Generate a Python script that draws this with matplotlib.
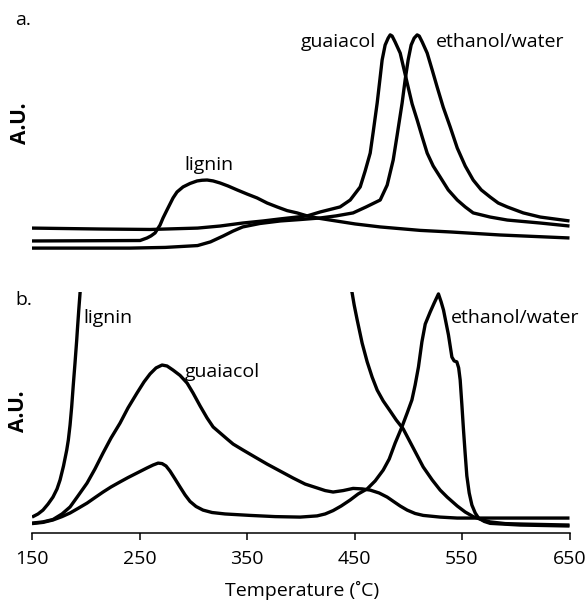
import matplotlib
matplotlib.use("Agg")
import matplotlib.pyplot as plt

plt.rcParams['font.family'] = ['Open Sans', 'DejaVu Sans']
plt.rcParams['font.size'] = 14

# ---- panel a. (A.U. on a 0-100 scale) ----
lignin_a_t = [150, 250.5, 257, 260.7, 264.5, 269.1, 271.9, 275.6, 278.4, 281.2, 284.9,
              290.5, 297, 303.6, 308.2, 312.9, 318.5, 325, 332.4, 340.8, 350.1, 359.4,
              368.7, 378, 387.3, 396.6, 405.9, 415.2, 427.3, 450.6, 473.9, 511.1, 540,
              585.6, 650]
lignin_a_v = [6.1, 6.3, 7.4, 8.3, 9.6, 13.0, 16.1, 19.6, 22.2, 24.8, 27.4, 29.6, 31.1,
              32.2, 32.5, 32.6, 32.2, 31.3, 30.0, 28.3, 26.5, 24.8, 22.6, 20.9, 19.3,
              18.3, 17.0, 16.1, 15.2, 13.5, 12.2, 10.7, 10.0, 8.7, 7.4]

guaiacol_a_t = [150, 213, 260, 304, 325, 346, 365, 381, 406, 418, 436.6, 446, 455.3,
                459.9, 464.6, 467.4, 471.1, 473.9, 475.7, 478.5, 481.3, 483.2, 485,
                487.8, 492.5, 496.2, 499.9, 503.6, 508.3, 513, 517.6, 523.2, 529.7,
                537.2, 545.6, 553, 560.4, 576.2, 592.1, 622.8, 650]
guaiacol_a_v = [11.7, 11.3, 11.1, 11.7, 12.6, 13.9, 14.8, 15.7, 17.0, 18.7, 20.9, 23.9,
                29.6, 36.5, 44.3, 53.5, 66.1, 77.4, 84.8, 91.3, 94.3, 95.7, 95.2, 92.6,
                87.8, 80.4, 73.0, 65.7, 58.7, 51.3, 44.3, 38.7, 33.9, 28.3, 23.9, 20.9,
                18.3, 16.5, 15.2, 13.9, 12.6]

ethanol_a_t = [150, 241, 274, 304, 316, 328, 337, 346, 362, 381, 399, 418, 432.9, 448.7,
               460.8, 473.9, 480.4, 486, 489.7, 494.3, 497.1, 499.9, 502.7, 505.5,
               508.3, 510.2, 513, 517.6, 522.3, 526.9, 532.5, 539, 545.6, 553, 560.4,
               567.9, 576.2, 583.7, 592.1, 607, 622.8, 650]
ethanol_a_v = [3.0, 3.0, 3.3, 4.1, 5.7, 8.3, 10.4, 12.2, 13.7, 14.8, 15.4, 16.1, 17.0,
               18.3, 20.9, 23.9, 30.4, 41.3, 52.2, 66.1, 76.1, 84.8, 91.3, 94.3, 95.7,
               95.2, 92.6, 87.8, 80.4, 73.0, 64.3, 55.7, 46.5, 38.7, 32.6, 28.3, 25.2,
               22.6, 20.9, 18.3, 16.5, 14.8]

# ---- panel b. ----
lignin_b_t = [150, 155.6, 160.2, 164.9, 169.5, 173.3, 176.1, 179.3, 182.3, 183.8,
              185.4, 186.9, 188.4, 190, 191.6, 192.2, 193.5, 194.7, 197, 440,
              447.8, 449.7, 452.5, 457.1, 461.8, 466.4, 471.1, 476.7, 483.2, 488.8,
              495.3, 504.6, 513.9, 522.3, 529.7, 536.2, 545.6, 553, 560.4, 567.9,
              576.2, 590.2, 607, 650]
lignin_b_v = [6.6, 7.9, 9.5, 12.0, 14.9, 18.3, 22.0, 27.8, 34.4, 38.6, 44.8, 52.3,
              61.4, 70.5, 80.1, 84.2, 92.5, 99.6, 115, 115, 99.6, 94.6, 88.4, 78.8,
              71.0, 64.7, 59.3, 54.8, 50.6, 46.9, 43.2, 35.3, 27.4, 22.0, 17.8, 14.9,
              11.2, 8.7, 6.8, 5.6, 4.6, 3.9, 3.7, 3.3]

guaiacol_b_t = [150, 160.2, 169.5, 177.9, 185.4, 192.8, 201.2, 208.6, 216.1, 223.5,
                231.9, 239.3, 247.7, 254.2, 259.8, 265.4, 271, 275.6, 281.2, 287.7,
                294.3, 299.8, 306.4, 312.9, 318.5, 325, 331.5, 337.1, 346.4, 357.5,
                368.7, 380.8, 392.9, 404.1, 415.2, 422.7, 430.1, 439.4, 448.7, 457.1,
                464.6, 472.9, 480.4, 486.9, 492.5, 499, 506.4, 513.9, 529.7, 545.5, 650]
guaiacol_b_v = [4.1, 4.6, 5.6, 7.9, 10.8, 15.4, 20.7, 26.6, 33.2, 39.4, 45.6, 51.9,
                58.1, 62.7, 66.0, 68.5, 69.7, 69.3, 67.6, 65.4, 62.2, 58.1, 52.7, 47.7,
                44.0, 41.5, 39.0, 36.9, 34.4, 31.5, 28.6, 25.7, 22.8, 20.3, 18.7, 17.6,
                17.0, 17.6, 18.5, 18.3, 17.8, 16.6, 14.9, 12.9, 11.2, 9.5, 8.1, 7.3,
                6.6, 6.2, 6.2]

ethanol_b_t = [150, 160.2, 169.5, 177.9, 185.4, 192.8, 201.2, 208.6, 216.1, 223.5,
               231.9, 239.3, 247.7, 257, 262.6, 267.3, 271, 274.7, 278.4, 283.1, 287.7,
               292.4, 297, 302.6, 309.1, 317.5, 329.6, 352.9, 376.2, 399.4, 415.2,
               422.7, 430.1, 437.6, 446, 453.4, 461.8, 469.2, 476.7, 482.3, 487.8,
               494.1, 499, 503.4, 506.4, 509.5, 512.7, 515.8, 520.4, 524.1, 528.1,
               530.6, 532.8, 537.4, 540.6, 542.7, 545.2, 546.9, 548.3, 549.9, 551.4,
               552.9, 554.5, 556.7, 559.2, 562.3, 565.4, 570.7, 576.2, 604.2, 650]
ethanol_b_v = [3.9, 4.4, 5.4, 6.8, 8.3, 10.2, 12.4, 14.7, 17.0, 19.1, 21.2, 23.0, 24.9,
               27.0, 28.2, 29.0, 28.8, 27.8, 25.7, 22.4, 19.1, 15.8, 13.1, 11.0, 9.5,
               8.5, 7.9, 7.3, 6.8, 6.6, 7.1, 7.9, 9.3, 11.2, 13.7, 16.2, 18.3, 21.6,
               26.1, 30.7, 37.3, 44.0, 49.8, 55.2, 61.4, 68.9, 79.3, 86.7, 91.7, 95.4,
               99.2, 95.9, 92.5, 82.2, 73.0, 71.4, 71.0, 68.5, 63.5, 53.1, 42.7, 33.2,
               23.7, 16.6, 11.6, 8.3, 6.2, 4.8, 4.0, 3.3, 2.9]

ticks = [150, 250, 350, 450, 550, 650]

W, H = 588, 600
fig = plt.figure(figsize=(W / 100, H / 100), dpi=100)


def px_axes(x0, y0, x1, y1):
    return fig.add_axes([x0 / W, 1 - y1 / H, (x1 - x0) / W, (y1 - y0) / H])


line = dict(color='black', lw=2.4, solid_joinstyle='round', solid_capstyle='butt')

ax_a = px_axes(32, 25, 569.5, 255)
for t, v in [(lignin_a_t, lignin_a_v), (guaiacol_a_t, guaiacol_a_v), (ethanol_a_t, ethanol_a_v)]:
    ax_a.plot(t, v, **line)
ax_a.set_xlim(150, 650)
ax_a.set_ylim(0, 100)
ax_a.axis('off')
ax_a.text(315, 37, 'lignin', ha='center', va='baseline')
ax_a.text(435, 90.4, 'guaiacol', ha='center', va='baseline')
ax_a.text(585.6, 90.4, 'ethanol/water', ha='center', va='baseline')

ax_b = px_axes(32, 292, 569.5, 533)
for t, v in [(lignin_b_t, lignin_b_v), (guaiacol_b_t, guaiacol_b_v), (ethanol_b_t, ethanol_b_v)]:
    ax_b.plot(t, v, **line)
ax_b.set_xlim(150, 650)
ax_b.set_ylim(0, 100)
for s in ['top', 'right', 'left']:
    ax_b.spines[s].set_visible(False)
ax_b.spines['bottom'].set_linewidth(1.1)
ax_b.set_yticks([])
ax_b.set_xticks(ticks)
ax_b.tick_params(axis='x', direction='out', length=5, width=1.1, pad=7, labelsize=14)
ax_b.text(220.7, 87.1, 'lignin', ha='center', va='baseline')
ax_b.text(326.8, 64.7, 'guaiacol', ha='center', va='baseline')
ax_b.text(599.5, 87.1, 'ethanol/water', ha='center', va='baseline')

fig.text(15 / W, 1 - 25 / H, 'a.', ha='left', va='baseline')
fig.text(15 / W, 1 - 305 / H, 'b.', ha='left', va='baseline')
fig.text(20 / W, 1 - 123 / H, 'A.U.', rotation=90, ha='center', va='center',
         fontweight='bold', fontsize=15)
fig.text(19 / W, 1 - 411 / H, 'A.U.', rotation=90, ha='center', va='center',
         fontweight='bold', fontsize=15)
fig.text(302 / W, 1 - 596 / H, 'Temperature (˚C)', ha='center', va='baseline')

fig.savefig('out.png', dpi=100)
